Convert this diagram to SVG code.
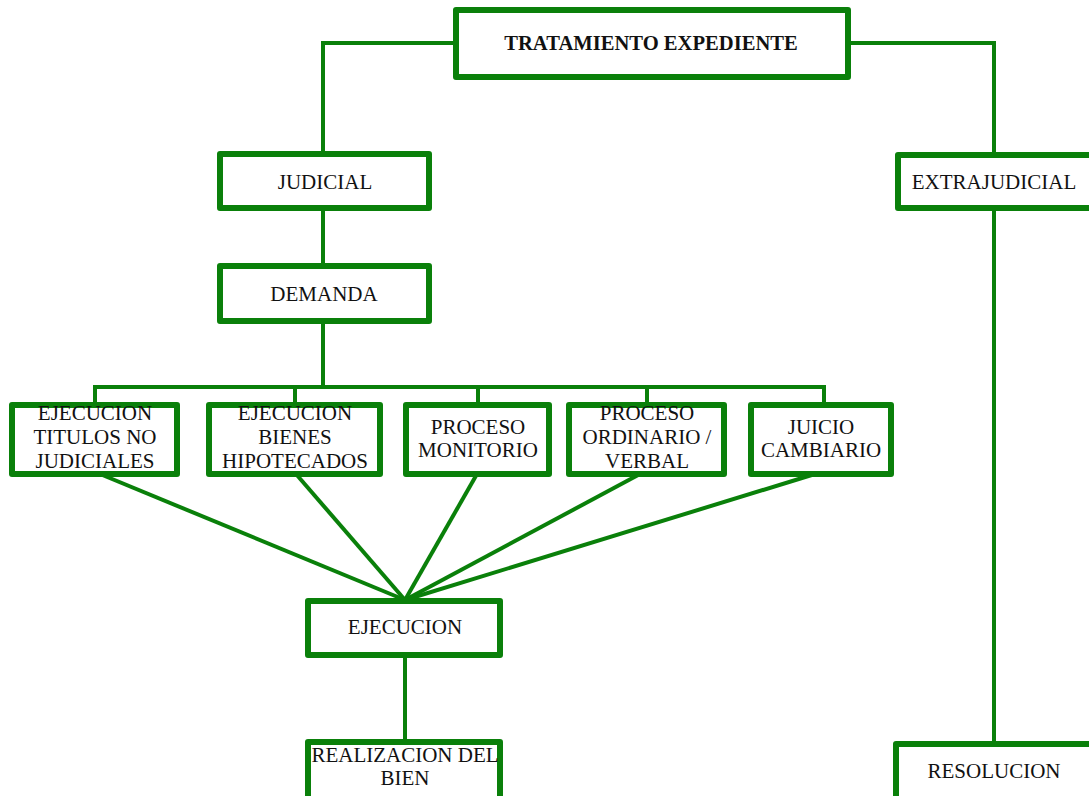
<svg xmlns="http://www.w3.org/2000/svg" width="1089" height="796" viewBox="0 0 1089 796">
<style>
.box{fill:#fff;stroke:#0a800a;stroke-width:6;stroke-linejoin:round}
.c{fill:none;stroke:#0a800a;stroke-width:4}
.t{font-family:"Liberation Serif","Times New Roman",serif;font-size:21px;fill:#111;text-anchor:middle}
.b{font-weight:bold;font-size:20.6px}
</style>
<g id="connectors">
<polyline class="c" points="456,43 323,43 323,154"/>
<polyline class="c" points="848,43 994,43 994,155"/>
<line class="c" x1="323" y1="208" x2="323" y2="266"/>
<line class="c" x1="323" y1="321" x2="323" y2="387"/>
<polyline class="c" points="95,405 95,387 824,387 824,405"/>
<line class="c" x1="295" y1="387" x2="295" y2="405"/>
<line class="c" x1="478" y1="387" x2="478" y2="405"/>
<line class="c" x1="647" y1="387" x2="647" y2="405"/>
<line class="c" x1="100" y1="474" x2="405" y2="600"/>
<line class="c" x1="296" y1="474" x2="405" y2="600"/>
<line class="c" x1="477" y1="474" x2="405" y2="600"/>
<line class="c" x1="640" y1="474" x2="405" y2="600"/>
<line class="c" x1="815" y1="474" x2="405" y2="600"/>
<line class="c" x1="405" y1="655" x2="405" y2="742"/>
<line class="c" x1="994" y1="208" x2="994" y2="744"/>
</g>
<g id="tratamiento">
<rect class="box" x="456" y="10" width="392" height="67"/>
<text class="t b" x="651" y="50">TRATAMIENTO EXPEDIENTE</text>
</g>
<g id="judicial">
<rect class="box" x="220" y="154" width="209" height="54"/>
<text class="t" x="325" y="189">JUDICIAL</text>
</g>
<g id="extrajudicial">
<rect class="box" x="898" y="155" width="200" height="53"/>
<text class="t" x="994" y="189">EXTRAJUDICIAL</text>
</g>
<g id="demanda">
<rect class="box" x="220" y="266" width="209" height="55"/>
<text class="t" x="324" y="301">DEMANDA</text>
</g>
<g id="ejec-titulos">
<rect class="box" x="12" y="405" width="165" height="69"/>
<text class="t" x="95" y="420">EJECUCION</text>
<text class="t" x="95" y="444">TITULOS NO</text>
<text class="t" x="95" y="468">JUDICIALES</text>
</g>
<g id="ejec-bienes">
<rect class="box" x="209" y="405" width="171" height="69"/>
<text class="t" x="295" y="420">EJECUCION</text>
<text class="t" x="295" y="444">BIENES</text>
<text class="t" x="295" y="468">HIPOTECADOS</text>
</g>
<g id="proceso-monitorio">
<rect class="box" x="406" y="405" width="143" height="69"/>
<text class="t" x="478" y="434">PROCESO</text>
<text class="t" x="478" y="457">MONITORIO</text>
</g>
<g id="proceso-ordinario">
<rect class="box" x="569" y="405" width="155" height="69"/>
<text class="t" x="647" y="420">PROCESO</text>
<text class="t" x="647" y="444">ORDINARIO /</text>
<text class="t" x="647" y="468">VERBAL</text>
</g>
<g id="juicio-cambiario">
<rect class="box" x="751" y="405" width="140" height="69"/>
<text class="t" x="821" y="434">JUICIO</text>
<text class="t" x="821" y="457">CAMBIARIO</text>
</g>
<g id="ejecucion">
<rect class="box" x="308" y="601" width="192" height="54"/>
<text class="t" x="405" y="634">EJECUCION</text>
</g>
<g id="realizacion">
<rect class="box" x="308" y="742" width="192" height="60"/>
<text class="t" x="405" y="762">REALIZACION DEL</text>
<text class="t" x="405" y="785">BIEN</text>
</g>
<g id="resolucion">
<rect class="box" x="896" y="744" width="200" height="60"/>
<text class="t" x="994" y="778">RESOLUCION</text>
</g>
</svg>
